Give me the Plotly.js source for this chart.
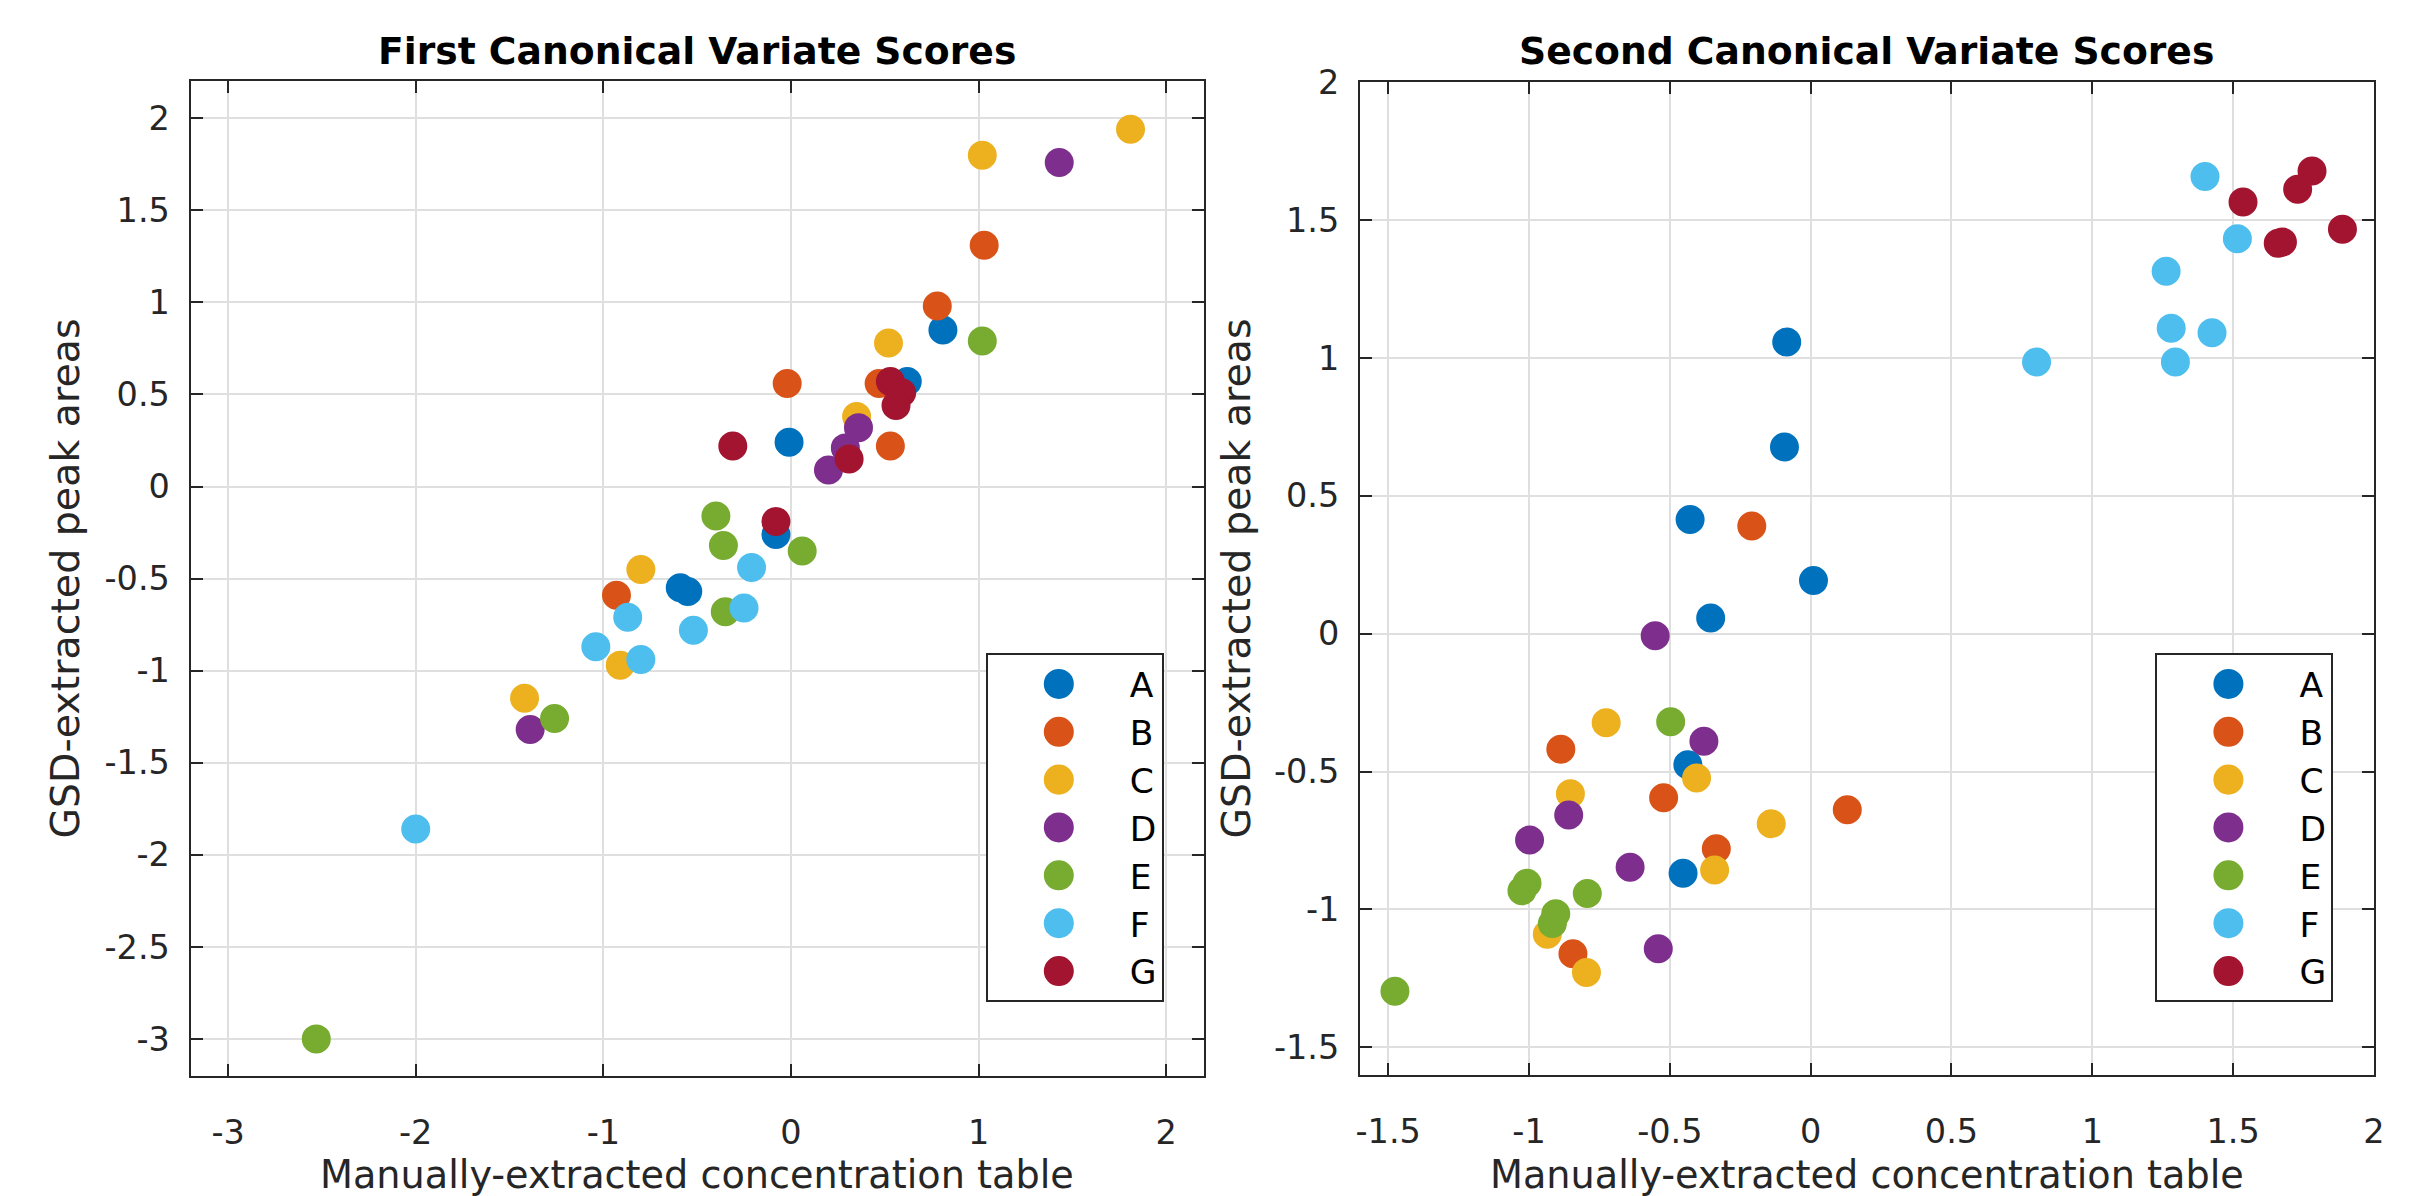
<!DOCTYPE html>
<html>
<head>
<meta charset="utf-8">
<script src="https://cdn.plot.ly/plotly-3.0.1.min.js"></script>
<style>
html,body{margin:0;padding:0;background:#ffffff;}
#chart{width:2411px;height:1196px;}
</style>
</head>
<body>
<div id="chart"></div>
<script>
// ---------- categories ----------
const groups = ['A', 'B', 'C', 'D', 'E', 'F', 'G'];

// ---------- First Canonical Variate Scores ----------
const first_A_x = [-0.01, -0.08, -0.59, -0.55, 0.81, 0.62];
const first_A_y = [0.24, -0.26, -0.55, -0.57, 0.85, 0.57];
const first_B_x = [-0.02, 0.53, -0.93, 1.03, 0.78, 0.47];
const first_B_y = [0.56, 0.22, -0.59, 1.31, 0.98, 0.56];
const first_C_x = [0.35, -0.80, -0.91, 1.81, 1.02, 0.52, -1.42];
const first_C_y = [0.38, -0.45, -0.97, 1.94, 1.80, 0.78, -1.15];
const first_D_x = [0.36, 0.29, 0.20, 1.43, -1.39];
const first_D_y = [0.32, 0.21, 0.09, 1.76, -1.32];
const first_E_x = [-0.40, -0.36, 0.06, -0.35, 1.02, -1.26, -2.53];
const first_E_y = [-0.16, -0.32, -0.35, -0.68, 0.79, -1.26, -3.00];
const first_F_x = [-0.21, -0.87, -0.25, -0.52, -1.04, -0.80, -2.00];
const first_F_y = [-0.44, -0.71, -0.66, -0.78, -0.87, -0.94, -1.86];
const first_G_x = [-0.31, -0.08, 0.31, 0.53, 0.59, 0.56];
const first_G_y = [0.22, -0.19, 0.15, 0.57, 0.51, 0.44];

// ---------- Second Canonical Variate Scores ----------
const second_A_x = [-0.085, -0.093, -0.428, 0.010, -0.355, -0.436, -0.453];
const second_A_y = [1.057, 0.677, 0.414, 0.193, 0.057, -0.475, -0.869];
const second_B_x = [-0.209, -0.887, -0.522, 0.130, -0.335, -0.844];
const second_B_y = [0.390, -0.419, -0.595, -0.638, -0.780, -1.160];
const second_C_x = [-0.726, -0.405, -0.853, -0.140, -0.341, -0.935, -0.796];
const second_C_y = [-0.323, -0.523, -0.580, -0.689, -0.857, -1.090, -1.228];
const second_D_x = [-0.552, -0.379, -0.859, -0.998, -0.641, -0.541];
const second_D_y = [-0.008, -0.390, -0.657, -0.748, -0.847, -1.142];
const second_E_x = [-0.497, -1.007, -1.025, -0.793, -0.905, -0.917, -1.476];
const second_E_y = [-0.319, -0.905, -0.932, -0.942, -1.015, -1.051, -1.296];
const second_F_x = [1.400, 1.515, 1.262, 1.280, 1.425, 1.295, 0.802];
const second_F_y = [1.657, 1.432, 1.314, 1.107, 1.091, 0.985, 0.985];
const second_G_x = [1.535, 1.780, 1.729, 1.660, 1.675, 1.888];
const second_G_y = [1.565, 1.677, 1.611, 1.415, 1.420, 1.466];

// ---------- tick labels ----------
const first_xticks = [-3, -2, -1, 0, 1, 2];
const first_xtickText = ['-3', '-2', '-1', '0', '1', '2'];
const first_yticks = [-3, -2.5, -2, -1.5, -1, -0.5, 0, 0.5, 1, 1.5, 2];
const first_ytickText = ['-3', '-2.5', '-2', '-1.5', '-1', '-0.5', '0', '0.5', '1', '1.5', '2'];
const second_xticks = [-1.5, -1, -0.5, 0, 0.5, 1, 1.5, 2];
const second_xtickText = ['-1.5', '-1', '-0.5', '0', '0.5', '1', '1.5', '2'];
const second_yticks = [-1.5, -1, -0.5, 0, 0.5, 1, 1.5, 2];
const second_ytickText = ['-1.5', '-1', '-0.5', '0', '0.5', '1', '1.5', '2'];

// ---------- texts ----------
const titleFirst = 'First Canonical Variate Scores';
const titleSecond = 'Second Canonical Variate Scores';
const xLabel = 'Manually-extracted concentration table';
const yLabel = 'GSD-extracted peak areas';

// ---------- styles ----------
const groupColors = ['#0072BD', '#D95319', '#EDB120', '#7E2F8E', '#77AC30', '#4DBEEE', '#A2142F'];
const FONT = 'DejaVu Sans, Liberation Sans, Arial, sans-serif';
const AXIS_COLOR = '#262626';

const firstSets = [
  [first_A_x, first_A_y], [first_B_x, first_B_y], [first_C_x, first_C_y],
  [first_D_x, first_D_y], [first_E_x, first_E_y], [first_F_x, first_F_y],
  [first_G_x, first_G_y]
];
const secondSets = [
  [second_A_x, second_A_y], [second_B_x, second_B_y], [second_C_x, second_C_y],
  [second_D_x, second_D_y], [second_E_x, second_E_y], [second_F_x, second_F_y],
  [second_G_x, second_G_y]
];

const traces = [];
groups.forEach((g, i) => {
  traces.push({
    type: 'scatter', mode: 'markers', name: g,
    x: firstSets[i][0], y: firstSets[i][1],
    xaxis: 'x', yaxis: 'y', legend: 'legend',
    marker: {color: groupColors[i], size: 24, line: {color: groupColors[i], width: 5}},
    hoverinfo: 'skip'
  });
});
groups.forEach((g, i) => {
  traces.push({
    type: 'scatter', mode: 'markers', name: g,
    x: secondSets[i][0], y: secondSets[i][1],
    xaxis: 'x2', yaxis: 'y2', legend: 'legend2',
    marker: {color: groupColors[i], size: 24, line: {color: groupColors[i], width: 5}},
    hoverinfo: 'skip'
  });
});

function axisBase(extra) {
  return Object.assign({
    showline: true, mirror: 'ticks', linecolor: AXIS_COLOR, linewidth: 2,
    ticks: 'inside', ticklen: 12, tickwidth: 2, tickcolor: AXIS_COLOR,
    showgrid: true, gridcolor: '#dfdfdf', gridwidth: 2,
    zeroline: false, tickmode: 'array',
    tickfont: {family: FONT, size: 33.5, color: AXIS_COLOR},
    fixedrange: true, automargin: false
  }, extra);
}

const legendBase = {
  xanchor: 'left', yanchor: 'top',
  bordercolor: AXIS_COLOR, borderwidth: 2, bgcolor: '#ffffff',
  font: {family: FONT, size: 34.5, color: '#000000'},
  itemwidth: 132, tracegroupgap: 0, traceorder: 'normal'
};

const layout = {
  width: 2411, height: 1196,
  margin: {l: 0, r: 0, t: 0, b: 0, pad: 0},
  paper_bgcolor: '#ffffff', plot_bgcolor: '#ffffff',
  font: {family: FONT, color: AXIS_COLOR},
  showlegend: true,
  xaxis: axisBase({domain: [0.07905, 0.49925], range: [-3.2, 2.2], anchor: 'y',
    tickvals: first_xticks, ticktext: first_xtickText, ticklabelstandoff: 26}),
  yaxis: axisBase({domain: [0.10059, 0.93186], range: [-3.2, 2.2], anchor: 'x',
    tickvals: first_yticks, ticktext: first_ytickText, ticklabelstandoff: 12}),
  xaxis2: axisBase({domain: [0.56408, 0.98465], range: [-1.6, 2], anchor: 'y2',
    tickvals: second_xticks, ticktext: second_xtickText, ticklabelstandoff: 26}),
  yaxis2: axisBase({domain: [0.10117, 0.93144], range: [-1.6, 2], anchor: 'x2',
    tickvals: second_yticks, ticktext: second_ytickText, ticklabelstandoff: 12}),
  legend: Object.assign({}, legendBase, {x: 0.40888, y: 0.45401}),
  legend2: Object.assign({}, legendBase, {x: 0.89399, y: 0.45401}),
  annotations: [
    {text: titleFirst, xref: 'paper', yref: 'paper', x: 0.28915, y: 0.95694,
     xanchor: 'center', yanchor: 'middle', showarrow: false,
     font: {family: FONT, size: 37.7, color: '#000000', weight: 'bold'}},
    {text: titleSecond, xref: 'paper', yref: 'paper', x: 0.774365, y: 0.95694,
     xanchor: 'center', yanchor: 'middle', showarrow: false,
     font: {family: FONT, size: 37.7, color: '#000000', weight: 'bold'}},
    {text: xLabel, xref: 'paper', yref: 'paper', x: 0.28915, y: 0.01756,
     xanchor: 'center', yanchor: 'middle', showarrow: false,
     font: {family: FONT, size: 38.2, color: AXIS_COLOR}},
    {text: xLabel, xref: 'paper', yref: 'paper', x: 0.774365, y: 0.01756,
     xanchor: 'center', yanchor: 'middle', showarrow: false,
     font: {family: FONT, size: 38.2, color: AXIS_COLOR}},
    {text: yLabel, xref: 'paper', yref: 'paper', x: 0.02696, y: 0.51622,
     xanchor: 'center', yanchor: 'middle', showarrow: false, textangle: -90,
     font: {family: FONT, size: 39.5, color: AXIS_COLOR}},
    {text: yLabel, xref: 'paper', yref: 'paper', x: 0.51265, y: 0.5163,
     xanchor: 'center', yanchor: 'middle', showarrow: false, textangle: -90,
     font: {family: FONT, size: 39.5, color: AXIS_COLOR}}
  ]
};

Plotly.newPlot('chart', traces, layout, {displayModeBar: false, staticPlot: true, responsive: false})
  .then(function (gd) {
    // Plotly caps legend symbols at 16px; enlarge them to match the plotted markers.
    gd.querySelectorAll('g.legendpoints path.scatterpts').forEach(function (p) {
      var t = p.getAttribute('transform') || '';
      p.setAttribute('transform', t + ' scale(1.43)');
    });
  });
</script>
</body>
</html>
